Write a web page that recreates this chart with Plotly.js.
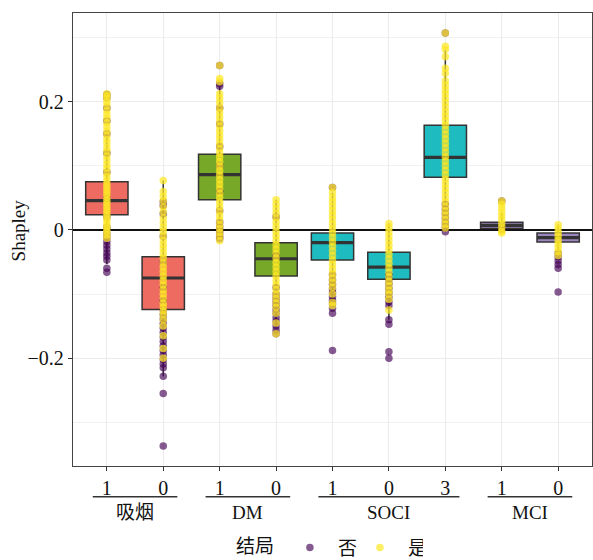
<!DOCTYPE html>
<html><head><meta charset="utf-8">
<script src="https://cdn.plot.ly/plotly-3.0.1.min.js"></script>
<style>body{margin:0;padding:0;background:#fff}</style>
</head><body><div id="chart" style="width:593px;height:560px"></div>
<script>
// ---- data ----
const tickLabels = ["1","0","1","0","1","0","3","1","0"];
const groupNames = ["吸烟","DM","SOCI","MCI"];
const groupFirst = [0,2,4,7];
const groupLast  = [1,3,6,8];
const boxGroup   = [0,0,1,1,2,2,2,3,3];
const groupFill  = ["#EE6B62","#78A828","#1EBCC1","#9C86C0"];

const q1     = [0.0235,-0.124,0.047,-0.072,-0.047,-0.077,0.082,0.002,-0.019];
const median = [0.0455,-0.075,0.086,-0.045,-0.020,-0.058,0.113,0.007,-0.012];
const q3     = [0.075,-0.042,0.118,-0.020,-0.005,-0.035,0.163,0.012,-0.005];
const lowerF = [-0.053,-0.228,-0.017,-0.150,-0.110,-0.140,-0.003,-0.005,-0.036];
const upperF = [0.152,0.077,0.224,0.047,0.058,0.010,0.280,0.027,0.008];

// points, outcome 是 (yes) and 否 (no), per category
const yes_smoke1 = [0.212,0.209,0.205,0.199,0.193,0.186,0.18,0.174,0.167,0.161,0.154,0.148,0.141,0.135,0.128,0.122,0.115,0.109,0.102,0.096,0.089,0.083,0.077,0.071,0.066,0.061,0.056,0.051,0.046,0.041,0.036,0.031,0.026,0.021,0.016,0.011,0.006,0.002,-0.003,-0.008,-0.013];
const no_smoke1  = [0.211,0.206,0.19,0.17,0.15,0.12,0.09,0.05,0.02,0.004,-0.006,-0.012,-0.018,-0.024,-0.03,-0.036,-0.041,-0.047,-0.06,-0.066];
const yes_smoke0 = [0.077,0.06,0.052,0.045,0.036,0.028,0.019,0.011,0.004,-0.002,-0.009,-0.016,-0.023,-0.03,-0.037,-0.044,-0.051,-0.058,-0.065,-0.072,-0.079,-0.086,-0.093,-0.1,-0.107,-0.114,-0.12,-0.126,-0.132,-0.14,-0.15,-0.165,-0.185,-0.2];
const no_smoke0  = [0.044,0.038,0.025,-0.01,-0.05,-0.09,-0.11,-0.125,-0.132,-0.139,-0.146,-0.153,-0.16,-0.167,-0.174,-0.181,-0.188,-0.195,-0.202,-0.209,-0.215,-0.228,-0.255,-0.337];
const yes_dm1 = [0.256,0.236,0.231,0.212,0.205,0.198,0.19,0.183,0.176,0.169,0.162,0.155,0.148,0.141,0.134,0.127,0.12,0.113,0.106,0.099,0.092,0.085,0.078,0.071,0.064,0.057,0.05,0.043,0.036,0.029,0.022,0.015,0.008,0.002,-0.004,-0.01,-0.017];
const no_dm1  = [0.256,0.228,0.224,0.19,0.165,0.13,0.1,0.06,0.03,0.012,0.005,0.0,-0.005,-0.01,-0.014];
const yes_dm0 = [0.047,0.04,0.033,0.026,0.019,0.012,0.005,-0.002,-0.009,-0.016,-0.023,-0.03,-0.037,-0.044,-0.051,-0.058,-0.065,-0.072,-0.079,-0.086,-0.093,-0.1,-0.107,-0.114,-0.121,-0.13,-0.145,-0.162];
const no_dm0  = [0.02,-0.04,-0.09,-0.1,-0.106,-0.112,-0.118,-0.124,-0.13,-0.137,-0.143,-0.15,-0.156,-0.162];
const yes_soci1 = [0.066,0.058,0.05,0.044,0.037,0.03,0.023,0.016,0.009,0.002,-0.005,-0.012,-0.019,-0.026,-0.033,-0.04,-0.047,-0.054,-0.061,-0.068,-0.075,-0.082,-0.09,-0.1,-0.113,-0.118];
const no_soci1  = [0.066,-0.07,-0.078,-0.085,-0.092,-0.098,-0.104,-0.11,-0.115,-0.122,-0.13,-0.188];
const yes_soci0 = [0.01,0.004,-0.003,-0.01,-0.017,-0.024,-0.031,-0.038,-0.045,-0.052,-0.059,-0.066,-0.073,-0.08,-0.087,-0.094,-0.1,-0.108,-0.125];
const no_soci0  = [-0.07,-0.077,-0.084,-0.091,-0.098,-0.105,-0.112,-0.118,-0.14,-0.147,-0.19,-0.2];
const yes_soci3 = [0.307,0.286,0.281,0.27,0.252,0.244,0.232,0.225,0.218,0.212,0.205,0.198,0.191,0.184,0.177,0.17,0.163,0.156,0.149,0.142,0.135,0.128,0.121,0.114,0.107,0.1,0.093,0.086,0.079,0.072,0.065,0.058,0.051,0.044,0.037,0.03,0.023,0.016,0.009,0.003];
const no_soci3  = [0.307,0.04,0.032,0.025,0.018,0.011,0.005,-0.003];
const yes_mci1 = [0.045,0.04,0.034,0.028,0.022,0.016,0.01,0.004,-0.002,-0.005];
const no_mci1  = [0.045,0.001];
const yes_mci0 = [0.008,0.002,-0.004,-0.01,-0.016,-0.022,-0.028,-0.034,-0.04];
const no_mci0  = [-0.036,-0.042,-0.048,-0.054,-0.06,-0.097];

const yesByCat = [yes_smoke1,yes_smoke0,yes_dm1,yes_dm0,yes_soci1,yes_soci0,yes_soci3,yes_mci1,yes_mci0];
const noByCat  = [no_smoke1,no_smoke0,no_dm1,no_dm0,no_soci1,no_soci0,no_soci3,no_mci1,no_mci0];

// ---- build traces ----
const SERIF = "Liberation Serif, Times New Roman, Noto Sans CJK SC, serif";
const pos = tickLabels.map((_, i) => i);
const BW = 0.75;
const traces = [];

groupFill.forEach((fill, g) => {
  const idx = pos.filter(i => boxGroup[i] === g);
  traces.push({
    type: "box", x: idx, q1: idx.map(i => q1[i]), median: idx.map(i => median[i]),
    q3: idx.map(i => q3[i]), lowerfence: idx.map(i => lowerF[i]), upperfence: idx.map(i => upperF[i]),
    width: BW, whiskerwidth: 0, fillcolor: fill, line: {color: "#333", width: 1.5},
    boxpoints: false, showlegend: false, hoverinfo: "skip"
  });
});

// thick median lines
const mx = [], my = [];
pos.forEach(i => { mx.push(i - BW/2, i + BW/2, null); my.push(median[i], median[i], null); });
traces.push({type: "scatter", mode: "lines", x: mx, y: my, line: {color: "#333", width: 3.2}, showlegend: false, hoverinfo: "skip"});

function pointTrace(arrs, name, color, op) {
  const x = [], y = [];
  arrs.forEach((a, i) => a.forEach(v => { x.push(i); y.push(v); }));
  return {type: "scatter", mode: "markers", x, y, name,
    marker: {color, size: 7.5, opacity: op, line: {width: 0}}, hoverinfo: "skip"};
}
traces.push(pointTrace(noByCat, "否", "#440154", 0.65));
traces.push(pointTrace(yesByCat, "是", "#FDE725", 0.72));

// group labels + lines under the axis
const shapes = [], annotations = [];
groupNames.forEach((name, g) => {
  shapes.push({type: "line", xref: "x", yref: "paper", x0: groupFirst[g] - 0.25, x1: groupLast[g] + 0.25,
    y0: -0.068, y1: -0.068, line: {color: "#333", width: 1.5}});
  annotations.push({xref: "x", yref: "paper", x: (groupFirst[g] + groupLast[g]) / 2, y: -0.102,
    text: name, showarrow: false, font: {family: SERIF, size: 19, color: "#111"}, yanchor: "middle"});
});
// y-axis title
annotations.push({xref: "paper", yref: "paper", x: -0.106, y: 0.52, xanchor: "center", yanchor: "middle",
  text: "Shapley", textangle: -90, showarrow: false, font: {family: SERIF, size: 19, color: "#111"}});

const layout = {
  width: 593, height: 560,
  margin: {l: 73, r: 1, t: 13, b: 94, autoexpand: false},
  paper_bgcolor: "#fff", plot_bgcolor: "#fff",
  showlegend: true, boxmode: "overlay",
  xaxis: {range: [-0.6, 8.6], tickmode: "array", tickvals: pos, ticktext: tickLabels,
    showgrid: true, gridcolor: "#ebebeb", gridwidth: 1, zeroline: false,
    showline: true, mirror: true, linecolor: "#444", linewidth: 1.2,
    ticks: "outside", ticklen: 4, tickcolor: "#333",
    tickfont: {family: SERIF, size: 20, color: "#111"}},
  yaxis: {range: [-0.368, 0.338], tickmode: "array", tickvals: [-0.2, 0, 0.2],
    showgrid: true, gridcolor: "#ebebeb", gridwidth: 1,
    minor: {tickmode: "array", tickvals: [-0.3, -0.1, 0.1, 0.3], showgrid: true, gridcolor: "#f2f2f2", gridwidth: 1},
    zeroline: true, zerolinecolor: "#111", zerolinewidth: 1.3,
    showline: true, mirror: true, linecolor: "#444", linewidth: 1.2,
    ticks: "outside", ticklen: 4, tickcolor: "#333",
    tickfont: {family: SERIF, size: 20, color: "#111"}},
  legend: {orientation: "h", x: 0.31, xanchor: "left", y: -0.18, yanchor: "middle",
    title: {text: "结局", font: {family: SERIF, size: 19, color: "#111"}},
    font: {family: SERIF, size: 19, color: "#111"}, itemsizing: "trace", itemwidth: 46, entrywidth: 9},
  shapes, annotations
};

Plotly.newPlot("chart", traces, layout, {staticPlot: true, displayModeBar: false});
</script></body></html>
